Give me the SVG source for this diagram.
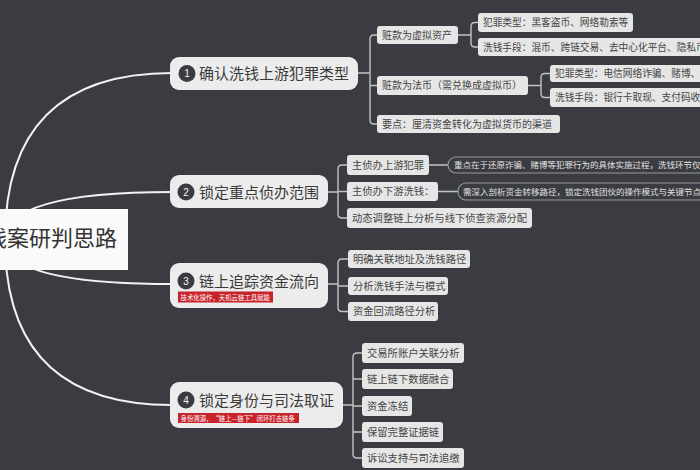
<svg xmlns="http://www.w3.org/2000/svg" width="700" height="470" viewBox="0 0 700 470">
<style>
text{font-family:"Liberation Sans","Noto Sans CJK SC",sans-serif}
.main{stroke:#f2f2f2;stroke-width:2;fill:none}
.br{stroke:#c4c4c4;stroke-width:1.4;fill:none}
.mn rect.b{fill:#ececec}
.mn text.t{font-size:15px;fill:#3a3a3a}
.num{fill:#3a3c41}
.nt{font-size:10px;fill:#f5f5f5;text-anchor:middle}
.red{fill:#c8232b}
.rt{font-size:6.4px;fill:#ffffff}
.cjk{font-family:"Noto Sans CJK SC",sans-serif}
.s rect{fill:#e6e6e6}
.s text{font-size:10px;fill:#444}
.s2 text{font-size:10.3px}
.l3 text{font-size:9.7px}
.p rect{fill:none;stroke:#9a9a9a;stroke-width:1.1}
.p text{font-size:8.5px;fill:#e2e2e2}
</style>
<rect x="0" y="0" width="700" height="470" fill="#3a3c41"/>
<g id="connectors">
<path class="main" d="M5 240 Q5 73 172 73"/>
<path class="main" d="M5 240 Q5 192 172 192"/>
<path class="main" d="M5 240 Q5 284 172 284"/>
<path class="main" d="M5 240 Q5 405 172 405"/>
<path class="br" d="M358 73 H370 M377 35 H374 Q370 35 370 39 V120 Q370 124 374 124 H377 M370 85.5 H377"/>
<path class="br" d="M458 35 H471 M478 22.5 H475 Q471 22.5 471 26.5 V43 Q471 47 475 47 H478"/>
<path class="br" d="M528 85.5 H541 M550 73.5 H545 Q541 73.5 541 77.5 V93.5 Q541 97.5 545 97.5 H550"/>
<path class="br" d="M328 192 H338 M347 165 H342 Q338 165 338 169 V214 Q338 218 342 218 H347 M338 191.5 H347"/>
<path class="br" d="M429 165 H448 M438 191.5 H458"/>
<path class="br" d="M328 284 H338 M348 259 H342 Q338 259 338 263 V307.5 Q338 311.5 342 311.5 H348 M338 286 H348"/>
<path class="br" d="M343 405 H353 M362 353 H357 Q353 353 353 357 V454 Q353 458 357 458 H362 M353 379 H362 M353 406 H362 M353 432 H362"/>
</g>
<g id="root">
<rect x="-5" y="209" width="133" height="61" fill="#fafafa"/>
<text x="117" y="246" font-size="22" fill="#333" text-anchor="end">洗钱案研判思路</text>
</g>
<g id="n1" class="mn">
<rect class="b" x="170" y="57" width="188" height="33" rx="9"/>
<circle class="num" cx="187" cy="73.5" r="8.5"/>
<text class="nt" x="187" y="77">1</text>
<text class="t" x="199" y="79">确认洗钱上游犯罪类型</text>
</g>
<g id="n1a" class="s"><rect x="377" y="26" width="81" height="18" rx="3"/><text x="382" y="38.6">赃款为虚拟资产</text></g>
<g id="n1a1" class="s l3"><rect x="478" y="13" width="155" height="19" rx="3"/><text x="483" y="26">犯罪类型：黑客盗币、网络勒索等</text></g>
<g id="n1a2" class="s l3"><rect x="478" y="38" width="240" height="18" rx="3"/><text x="483" y="50.5">洗钱手段：混币、跨链交易、去中心化平台、隐私币</text></g>
<g id="n1b" class="s"><rect x="377" y="76" width="151" height="19" rx="3"/><text x="382" y="89">赃款为法币（需兑换成虚拟币）</text></g>
<g id="n1b1" class="s l3"><rect x="550" y="65" width="170" height="17" rx="3"/><text x="555" y="77">犯罪类型：电信网络诈骗、赌博、</text></g>
<g id="n1b2" class="s l3"><rect x="550" y="88" width="170" height="19" rx="3"/><text x="555" y="101">洗钱手段：银行卡取现、支付码收</text></g>
<g id="n1c" class="s"><rect x="377" y="115" width="183" height="18" rx="3"/><text x="382" y="127.6">要点：厘清资金转化为虚拟货币的渠道</text></g>
<g id="n2" class="mn">
<rect class="b" x="170" y="175" width="158" height="33" rx="9"/>
<circle class="num" cx="186" cy="192" r="8.5"/>
<text class="nt" x="186" y="195.5">2</text>
<text class="t" x="199" y="197.5">锁定重点侦办范围</text>
</g>
<g id="n2a" class="s s2"><rect x="347" y="155" width="82" height="20" rx="3"/><text x="352" y="168.7">主侦办上游犯罪</text></g>
<g id="n2a1" class="p"><rect x="448" y="157" width="270" height="16" rx="8"/><text x="454" y="168">重点在于还原诈骗、赌博等犯罪行为的具体实施过程，洗钱环节仅</text></g>
<g id="n2b" class="s s2"><rect x="347" y="182" width="91" height="19" rx="3"/><text x="352" y="195.2">主侦办下游洗钱：</text></g>
<g id="n2b1" class="p"><rect x="458" y="183" width="260" height="17" rx="8"/><text x="463" y="194.5">需深入剖析资金转移路径，锁定洗钱团伙的操作模式与关键节点</text></g>
<g id="n2c" class="s s2"><rect x="347" y="208" width="185" height="20" rx="3"/><text x="352" y="221.7">动态调整链上分析与线下侦查资源分配</text></g>
<g id="n3" class="mn">
<rect class="b" x="170" y="263" width="158" height="45" rx="9"/>
<circle class="num" cx="186" cy="281" r="8.5"/>
<text class="nt" x="186" y="284.5">3</text>
<text class="t" x="199" y="286.5">链上追踪资金流向</text>
<rect class="red" x="178" y="291.5" width="95" height="11"/>
<text class="rt" x="180.5" y="299.6">技术化操作，天机云链工具赋能</text>
</g>
<g id="n3a" class="s s2"><rect x="348" y="250" width="122" height="18" rx="3"/><text x="353" y="262.7">明确关联地址及洗钱路径</text></g>
<g id="n3b" class="s s2"><rect x="348" y="277" width="100" height="18" rx="3"/><text x="353" y="289.7">分析洗钱手法与模式</text></g>
<g id="n3c" class="s s2"><rect x="348" y="302" width="90" height="19" rx="3"/><text x="353" y="315.2">资金回流路径分析</text></g>
<g id="n4" class="mn">
<rect class="b" x="170" y="382" width="173" height="46" rx="9"/>
<circle class="num" cx="186" cy="400" r="8.5"/>
<text class="nt" x="186" y="403.5">4</text>
<text class="t" x="199" y="405.5">锁定身份与司法取证</text>
<rect class="red" x="178" y="413" width="121" height="10"/>
<text class="rt cjk" x="180.5" y="420.6" font-size="6.7">身份溯源，“链上—链下”闭环打击链条</text>
</g>
<g id="n4a" class="s s2"><rect x="362" y="343" width="102" height="20" rx="3"/><text x="367" y="356.7">交易所账户关联分析</text></g>
<g id="n4b" class="s s2"><rect x="362" y="369" width="91" height="20" rx="3"/><text x="367" y="382.7">链上链下数据融合</text></g>
<g id="n4c" class="s s2"><rect x="362" y="396" width="50" height="20" rx="3"/><text x="367" y="409.7">资金冻结</text></g>
<g id="n4d" class="s s2"><rect x="362" y="422" width="81" height="20" rx="3"/><text x="367" y="435.7">保留完整证据链</text></g>
<g id="n4e" class="s s2"><rect x="362" y="448" width="102" height="20" rx="3"/><text x="367" y="461.7">诉讼支持与司法追缴</text></g>
</svg>
